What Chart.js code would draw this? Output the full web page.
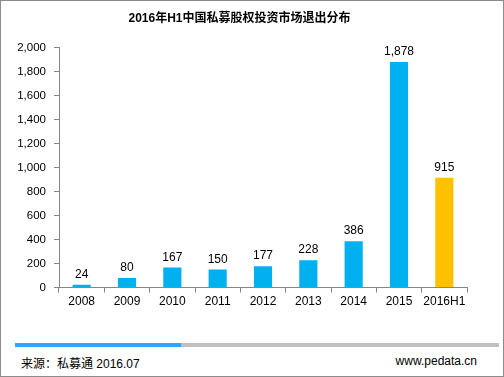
<!DOCTYPE html>
<html>
<head>
<meta charset="utf-8">
<script src="https://cdn.jsdelivr.net/npm/chart.js@4"></script>
<style>
  body { margin: 0; background: #fff; }
  #frame { position: relative; width: 502px; height: 375px; border: 1px solid #8c8c8c; background: #fff; overflow: hidden; }
  #wrap { position: absolute; left: -1px; top: -1px; width: 504px; height: 320px; }
  #bar-blue { position: absolute; left: 14px; top: 342px; width: 166px; height: 4px; background: #2fa6ff; }
  #bar-gray { position: absolute; left: 180px; top: 342px; width: 318px; height: 4px; background: #c0c0c0; }
  .foot { position: absolute; top: 353px; font: 12px "Liberation Sans", "Noto Sans CJK SC", sans-serif; color: #000; }
</style>
</head>
<body>
<div id="frame">
  <div id="wrap"><canvas id="exit-plot"></canvas></div>
  <div id="bar-blue"></div>
  <div id="bar-gray"></div>
  <div class="foot" style="left:20px">来源：私募通 2016.07</div>
  <div class="foot" style="right:26px">www.pedata.cn</div>
</div>
<script>
var periods = ['2008', '2009', '2010', '2011', '2012', '2013', '2014', '2015', '2016H1'];
var exits = [24, 80, 167, 150, 177, 228, 386, 1878, 915];
var barColors = ['#00B0F0', '#00B0F0', '#00B0F0', '#00B0F0', '#00B0F0', '#00B0F0', '#00B0F0', '#00B0F0', '#FFC000'];
var yTicks = [0, 200, 400, 600, 800, 1000, 1200, 1400, 1600, 1800, 2000];

var fontFamily = '"Liberation Sans", "Noto Sans CJK SC", sans-serif';

// value labels above each bar
var valueLabels = {
    id: 'valueLabels',
    afterDatasetsDraw: function (chart) {
        var ctx = chart.ctx;
        var meta = chart.getDatasetMeta(0);
        ctx.save();
        ctx.font = '12px ' + fontFamily;
        ctx.fillStyle = '#000';
        ctx.textAlign = 'center';
        ctx.textBaseline = 'alphabetic';
        meta.data.forEach(function (bar, i) {
            ctx.fillText(exits[i].toLocaleString('en-US'), bar.x, bar.y - 7);
        });
        ctx.restore();
    }
};

var layout = {
    type: 'bar',
    data: {
        labels: periods,
        datasets: [{
            data: exits,
            backgroundColor: barColors,
            barPercentage: 0.4,
            categoryPercentage: 1.0
        }]
    },
    options: {
        responsive: true,
        maintainAspectRatio: false,
        animation: false,
        layout: {
            padding: { left: 12, right: 37, top: 0, bottom: 9 }
        },
        scales: {
            x: {
                grid: {
                    display: true,
                    drawOnChartArea: false,
                    offset: true,
                    tickLength: 5,
                    color: '#868686'
                },
                border: { color: '#868686' },
                ticks: {
                    color: '#000',
                    padding: 2,
                    maxRotation: 0,
                    font: { size: 12, family: fontFamily }
                }
            },
            y: {
                min: 0,
                max: 2000,
                afterBuildTicks: function (scale) {
                    scale.ticks = yTicks.map(function (v) { return { value: v }; });
                },
                afterFit: function (scale) { scale.width = 47; },
                grid: {
                    display: true,
                    drawOnChartArea: false,
                    tickLength: 5,
                    color: '#868686'
                },
                border: { color: '#868686' },
                ticks: {
                    color: '#000',
                    padding: 8,
                    font: { size: 11.5, family: fontFamily },
                    callback: function (v) { return v.toLocaleString('en-US'); }
                }
            }
        },
        plugins: {
            legend: { display: false },
            tooltip: { enabled: false },
            title: {
                display: true,
                text: '2016年H1中国私募股权投资市场退出分布',
                color: '#000',
                font: { size: 12, weight: 'bold', family: fontFamily },
                padding: { top: 11, bottom: 22 }
            }
        }
    },
    plugins: [valueLabels]
};

new Chart(document.getElementById('exit-plot'), layout);
</script>
</body>
</html>
